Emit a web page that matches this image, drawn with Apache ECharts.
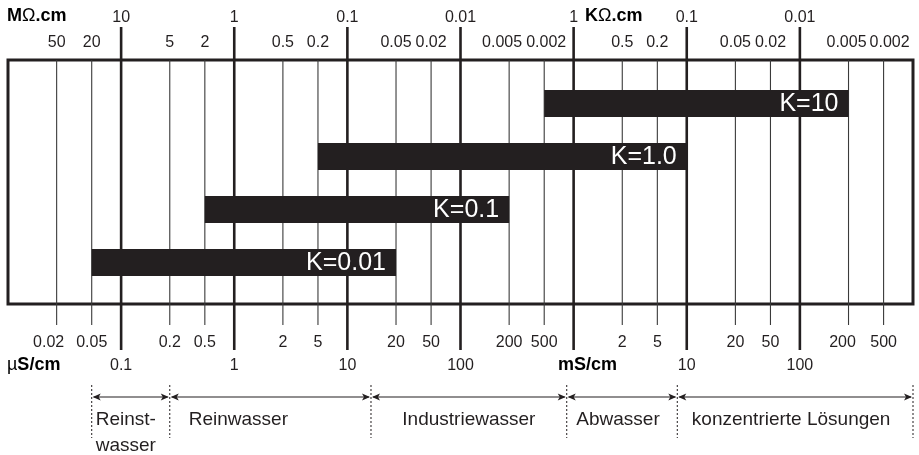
<!DOCTYPE html>
<html>
<head>
<meta charset="utf-8">
<script src="https://cdn.jsdelivr.net/npm/echarts@6/dist/echarts.min.js"></script>
<style>
html,body{margin:0;padding:0;background:#fff;}
#chart{width:919px;height:455px;}
</style>
</head>
<body>
<div id="chart"></div>
<script>
// ---------- data (conductivity in µS/cm) ----------
const majorTicks = [0.1, 1, 10, 100, 1000, 10000, 100000];
const minorTicks = [0.02, 0.05, 0.2, 0.5, 2, 5, 20, 50, 200, 500, 2000, 5000, 20000, 50000, 200000, 500000];
const topMajorLabels = ['10', '1', '0.1', '0.01', '1', '0.1', '0.01'];
const topMinorLabels = ['50', '20', '5', '2', '0.5', '0.2', '0.05', '0.02', '0.005', '0.002', '0.5', '0.2', '0.05', '0.02', '0.005', '0.002'];
const bottomMajorLabels = ['0.1', '1', '10', '100', '', '10', '100'];
const bottomMinorLabels = ['0.02', '0.05', '0.2', '0.5', '2', '5', '20', '50', '200', '500', '2', '5', '20', '50', '200', '500'];
const cellConstants = ['K=0.01', 'K=0.1', 'K=1.0', 'K=10'];
const rangeStart = [0.05, 0.5, 5, 500];
const rangeEnd = [20, 200, 10000, 200000];
const regionNames = ['Reinst-\nwasser', 'Reinwasser', 'Industriewasser', 'Abwasser', 'konzentrierte Lösungen'];
const regionBounds = [0.05, 0.2, 14, 850, 8000, 1000000];

// ---------- schematic scale: decade + position of 2 and 5 inside a decade ----------
function toPos(v) {
  const lg = Math.log10(v);
  const d = Math.floor(lg + 1e-9);
  const lm = lg - d;
  const a = [[0, 0], [Math.log10(2), 0.43], [Math.log10(5), 0.74], [1, 1]];
  let f = 0;
  for (let i = 0; i < a.length - 1; i++) {
    if (lm >= a[i][0] - 1e-12 && lm <= a[i + 1][0] + 1e-12) {
      f = a[i][1] + (lm - a[i][0]) / (a[i + 1][0] - a[i][0]) * (a[i + 1][1] - a[i][1]);
      break;
    }
  }
  return d + f;
}

const INK = '#231f20';
const FONT = "'Liberation Sans', Arial, Helvetica, sans-serif";

// small per-label nudges (style only), keyed by index
const nudges = {
  topMinor: {8: -7, 9: 2, 14: -2, 15: 6},
  bottomMinor: {0: -8, 14: -6}
};

function makeLabelAxis(position, values, labels, margin, nudge) {
  const pos = values.map(toPos);
  const rich = {};
  Object.keys(nudge || {}).forEach(k => {
    const n = nudge[k];
    rich['n' + k] = {padding: n < 0 ? [0, -2 * n, 0, 0] : [0, 0, 0, 2 * n], fontSize: 16, color: INK, fontFamily: FONT};
  });
  return {
    type: 'value', position: position, min: -2, max: 6, gridIndex: 0,
    axisLine: {show: false}, axisTick: {show: false}, splitLine: {show: false},
    axisLabel: {
      show: true, customValues: pos, margin: margin, fontSize: 16, color: INK, fontFamily: FONT,
      showMinLabel: true, showMaxLabel: true, hideOverlap: false,
      rich: rich,
      formatter: function (val) {
        for (let i = 0; i < pos.length; i++) {
          if (Math.abs(pos[i] - val) < 1e-6) {
            if (nudge && nudge[i] !== undefined) return '{n' + i + '|' + labels[i] + '}';
            return labels[i];
          }
        }
        return '';
      }
    }
  };
}

const chart = echarts.init(document.getElementById('chart'), null, {renderer: 'canvas'});

const tickData = majorTicks.map(v => [toPos(v), 0, 1]).concat(minorTicks.map(v => [toPos(v), 0, 0]));
const barData = cellConstants.map((k, i) => [toPos(rangeStart[i]), toPos(rangeEnd[i]), i, k]);
const regionData = regionNames.map((n, i) => [toPos(regionBounds[i]), toPos(regionBounds[i + 1]), i, n]);

const regionStyle = [
  {align: 'left', dx: 4},
  {align: 'center', dx: -32},
  {align: 'center', dx: 0},
  {align: 'center', dx: -4},
  {align: 'center', dx: -4}
];

const unitRich = {
  b: {fontSize: 18, fontWeight: 'bold', fontFamily: FONT, color: INK},
  n: {fontSize: 18, fontFamily: FONT, color: INK}
};

const option = {
  backgroundColor: '#fff',
  animation: false,
  grid: {left: 8, right: 6, top: 60, bottom: 151, show: true, borderColor: INK, borderWidth: 3, backgroundColor: 'transparent'},
  xAxis: [
    makeLabelAxis('top', majorTicks, topMajorLabels, 34, null),
    makeLabelAxis('top', minorTicks, topMinorLabels, 9, nudges.topMinor),
    makeLabelAxis('bottom', minorTicks, bottomMinorLabels, 31, nudges.bottomMinor),
    makeLabelAxis('bottom', majorTicks, bottomMajorLabels, 54, null)
  ],
  yAxis: {type: 'value', min: -0.8, max: 3.8, show: false},
  graphic: [
    {type: 'text', left: 7, top: 7, style: {text: '{b|M}{n|Ω}{b|.cm}', rich: unitRich}},
    {type: 'text', left: 585, top: 7, style: {text: '{b|K}{n|Ω}{b|.cm}', rich: unitRich}},
    {type: 'text', left: 7, top: 356, style: {text: '{n|µ}{b|S/cm}', rich: unitRich}},
    {type: 'text', left: 558, top: 356, style: {text: '{b|mS/cm}', rich: unitRich}}
  ],
  series: [
    {
      type: 'custom', name: 'ticks', xAxisIndex: 0, yAxisIndex: 0, clip: false, silent: true,
      encode: {x: 0, y: 1},
      data: tickData,
      renderItem: function (params, api) {
        const cs = params.coordSys;
        const x = api.coord([api.value(0), 0])[0];
        const major = api.value(2) === 1;
        const y1 = major ? cs.y - 33 : cs.y;
        const y2 = major ? cs.y + cs.height + 46 : cs.y + cs.height + 21;
        return {
          type: 'line',
          shape: {x1: x, y1: y1, x2: x, y2: y2},
          style: {stroke: major ? INK : '#3a3a3a', lineWidth: major ? 2.6 : 1.1}
        };
      },
      z: 1
    },
    {
      type: 'custom', name: 'ranges', xAxisIndex: 0, yAxisIndex: 0, silent: true,
      encode: {x: [0, 1], y: 2},
      data: barData,
      renderItem: function (params, api) {
        const p0 = api.coord([api.value(0), api.value(2)]);
        const p1 = api.coord([api.value(1), api.value(2)]);
        const h = 27;
        return {
          type: 'group',
          children: [
            {type: 'rect', shape: {x: p0[0], y: p0[1] - h / 2 + 1, width: p1[0] - p0[0], height: h}, style: {fill: INK}},
            {type: 'text', style: {text: api.value(3), x: p1[0] - 10, y: p0[1] + 2, align: 'right', verticalAlign: 'middle', font: '25px ' + FONT, fill: '#fff'}}
          ]
        };
      },
      z: 3
    },
    {
      type: 'custom', name: 'regions', xAxisIndex: 0, yAxisIndex: 0, clip: false, silent: true,
      encode: {x: [0, 1], y: 2},
      data: regionData,
      renderItem: function (params, api) {
        const cs = params.coordSys;
        const base = cs.y + cs.height;
        const i = params.dataIndex;
        const x0 = api.coord([api.value(0), 0])[0];
        const x1 = api.coord([api.value(1), 0])[0];
        const ya = base + 93;
        const dash = {stroke: INK, lineWidth: 1, lineDash: [2, 2]};
        const children = [
          {type: 'line', shape: {x1: x0, y1: base + 81, x2: x0, y2: base + 134}, style: dash},
          {type: 'line', shape: {x1: x0 + 2, y1: ya, x2: x1 - 2, y2: ya}, style: {stroke: INK, lineWidth: 1.2}},
          {type: 'polygon', shape: {points: [[x0 + 1, ya], [x0 + 9, ya - 3.5], [x0 + 7, ya], [x0 + 9, ya + 3.5]]}, style: {fill: INK}},
          {type: 'polygon', shape: {points: [[x1 - 1, ya], [x1 - 9, ya - 3.5], [x1 - 7, ya], [x1 - 9, ya + 3.5]]}, style: {fill: INK}}
        ];
        if (i === regionData.length - 1) {
          children.push({type: 'line', shape: {x1: x1, y1: base + 81, x2: x1, y2: base + 134}, style: dash});
        }
        const st = regionStyle[i];
        const tx = st.align === 'left' ? x0 + st.dx : (x0 + x1) / 2 + st.dx;
        children.push({type: 'text', style: {text: api.value(3), x: tx, y: base + 103, align: st.align, verticalAlign: 'top', font: '19px ' + FONT, fill: INK, lineHeight: 26}});
        return {type: 'group', children: children};
      },
      z: 2
    }
  ]
};
chart.setOption(option);
</script>
</body>
</html>
